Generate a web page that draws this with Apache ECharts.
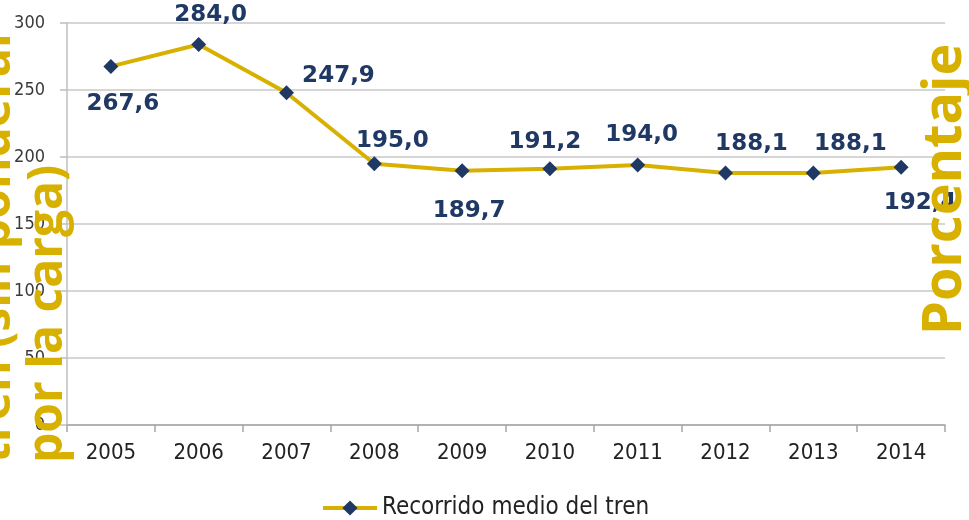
<!DOCTYPE html>
<html>
<head>
<meta charset="utf-8">
<script src="https://cdn.jsdelivr.net/npm/echarts@6/dist/echarts.min.js"></script>
<style>
  html, body { margin: 0; padding: 0; background: #fff; }
  #chart { width: 969px; height: 520px; }
</style>
</head>
<body>
<div id="chart"></div>
<script>
  // datos
  var years = ['2005', '2006', '2007', '2008', '2009', '2010', '2011', '2012', '2013', '2014'];
  var recorrido = [267.6, 284.0, 247.9, 195.0, 189.7, 191.2, 194.0, 188.1, 188.1, 192.4];
  var serieNombre = 'Recorrido medio del tren';
  var ejeIzq = ['Recorrido medio del', 'tren (sin ponderar', 'por la carga)'];
  var ejeDer = 'Porcentaje';

  // desplazamiento de cada etiqueta respecto a su punto (px)
  var labelOffsets = [[12, 38], [12, -29], [52, -17], [18, -23], [7, 40],
                      [-5, -27], [4, -30], [26, -29], [37, -29], [19, 36]];

  var gold = '#d7b000';
  var navy = '#1f3864';
  var condensed = "'DejaVu Sans Condensed', 'Liberation Sans Narrow', 'DejaVu Sans', sans-serif";

  var seriesData = recorrido.map(function (v, i) {
    return {
      value: v,
      label: { offset: labelOffsets[i] }
    };
  });

  var chart = echarts.init(document.getElementById('chart'));

  // titulos de eje en vertical (dorado)
  var graphics = [];
  var leftX = [-56, -4, 48];
  ejeIzq.forEach(function (t, i) {
    graphics.push({
      type: 'text', x: leftX[i], y: 463, rotation: Math.PI / 2, z: 100,
      style: {
        text: t, fill: gold,
        font: "bold 48px 'Open Sans', 'DejaVu Sans', sans-serif",
        textAlign: 'left', textVerticalAlign: 'middle',
        align: 'left', verticalAlign: 'middle'
      }
    });
  });
  graphics.push({
    type: 'text', x: 946, y: 335, rotation: Math.PI / 2, z: 100,
    style: {
      text: ejeDer, fill: gold,
      font: "bold 54px 'Open Sans', 'DejaVu Sans', sans-serif",
      textAlign: 'left', textVerticalAlign: 'middle',
      align: 'left', verticalAlign: 'middle'
    }
  });

  chart.setOption({
    animation: false,
    backgroundColor: '#fff',
    grid: { left: 67, right: 24, top: 23, bottom: 95, containLabel: false },
    legend: {
      data: [serieNombre],
      left: 316, top: 489,
      itemWidth: 54, itemHeight: 19,
      lineStyle: { color: gold, width: 4 },
      itemStyle: { color: navy },
      textStyle: { fontFamily: condensed, fontSize: 24, color: '#222', lineHeight: 28 }
    },
    xAxis: {
      type: 'category',
      data: years,
      boundaryGap: true,
      axisLine: { lineStyle: { color: '#a6a6a6', width: 1.5 } },
      axisTick: { show: true, length: 7, lineStyle: { color: '#a6a6a6', width: 1.5 } },
      axisLabel: { fontFamily: condensed, fontSize: 22, color: '#222', margin: 17 }
    },
    yAxis: {
      type: 'value',
      min: 0, max: 300, interval: 50,
      axisLine: { show: true, lineStyle: { color: '#bfbfbf', width: 1.5 } },
      axisTick: { show: true, length: 7, lineStyle: { color: '#bfbfbf', width: 1.5 } },
      axisLabel: { fontFamily: condensed, fontSize: 18, color: '#3a3a3a', margin: 22 },
      splitLine: { lineStyle: { color: '#c8c8c8', width: 1.5 } }
    },
    series: [{
      name: serieNombre,
      type: 'line',
      data: seriesData,
      symbol: 'diamond',
      symbolSize: 15,
      itemStyle: { color: navy },
      lineStyle: { color: gold, width: 4 },
      label: {
        show: true,
        position: 'inside',
        color: navy,
        fontFamily: "'DejaVu Sans', sans-serif",
        fontWeight: 'bold',
        fontSize: 23,
        formatter: function (p) { return p.value.toFixed(1).replace('.', ','); }
      }
    }],
    graphic: graphics
  });
</script>
</body>
</html>
